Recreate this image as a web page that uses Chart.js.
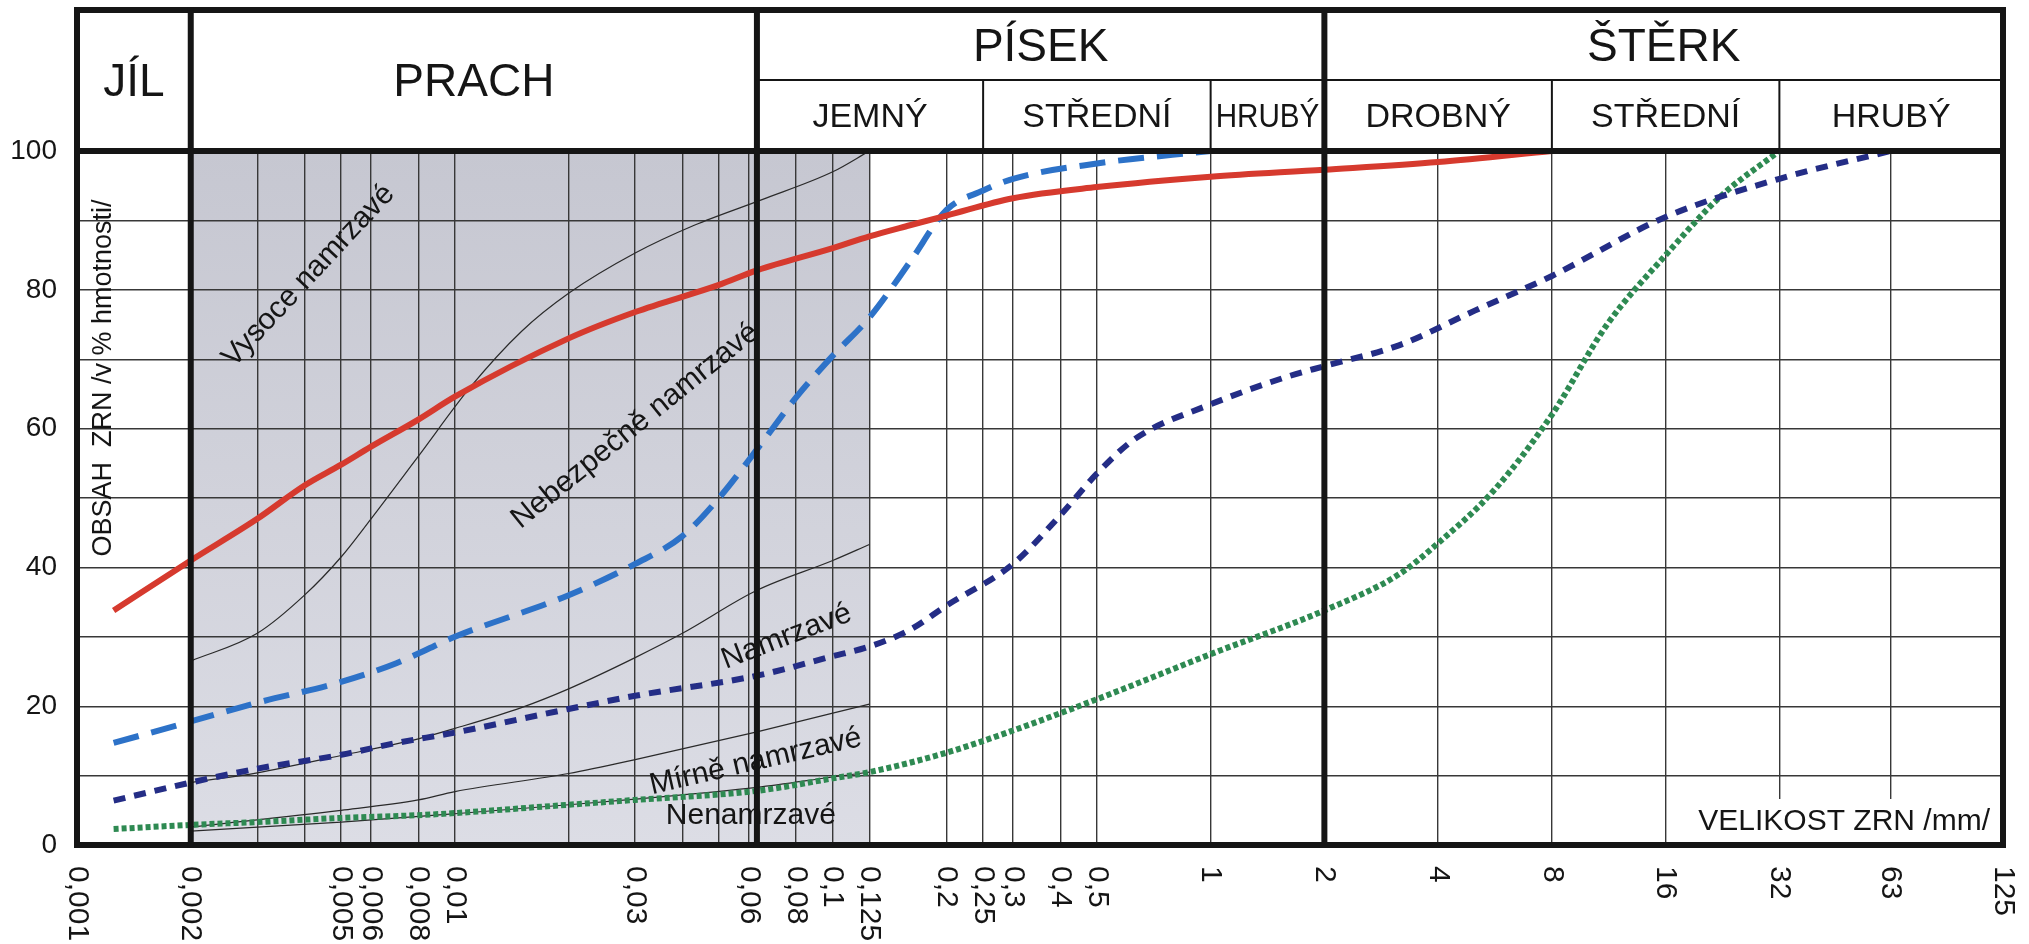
<!DOCTYPE html>
<html lang="cs">
<head>
<meta charset="utf-8">
<title>Čáry zrnitosti a namrzavost</title>
<script src="https://cdn.jsdelivr.net/npm/chart.js@4.4.1/dist/chart.umd.min.js"></script>
<style>
  html, body { margin: 0; padding: 0; background: #ffffff; }
  canvas { display: block; }
</style>
</head>
<body>
<canvas id="zrnitost" width="2029" height="944"></canvas>
<script>
// ---------------- DATA ----------------
// popisky osy x (velikost zrn v mm)
const osaHodnoty = [0.001, 0.002, 0.005, 0.006, 0.008, 0.01, 0.03, 0.06, 0.08, 0.1, 0.125, 0.2, 0.25, 0.3, 0.4, 0.5, 1, 2, 4, 8, 16, 32, 63, 125];
const osaPopisky = ['0,001', '0,002', '0,005', '0,006', '0,008', '0,01', '0,03', '0,06', '0,08', '0,1', '0,125', '0,2', '0,25', '0,3', '0,4', '0,5', '1', '2', '4', '8', '16', '32', '63', '125'];
// svislé čáry mřížky
const mrizkaX = [0.002, 0.003, 0.004, 0.005, 0.006, 0.008, 0.01, 0.02, 0.03, 0.04, 0.05, 0.06, 0.063, 0.08, 0.1, 0.125, 0.2, 0.25, 0.3, 0.4, 0.5, 1, 2, 4, 8, 16, 32, 63];

// frakce v záhlaví
const frakceNazvy = ['JÍL', 'PRACH', 'PÍSEK', 'ŠTĚRK'];
const frakceMeze = [0.001, 0.002, 0.063, 2, 125];
const podfrakceNazvy = ['JEMNÝ', 'STŘEDNÍ', 'HRUBÝ', 'DROBNÝ', 'STŘEDNÍ', 'HRUBÝ'];
const podfrakceMeze = [0.063, 0.25, 1, 2, 8, 32, 125];
const stinMeze = [0.002, 0.125];

// čáry zrnitosti (velikost zrn / obsah v %)
const cervenaD = [0.00125, 0.002, 0.003, 0.004, 0.005, 0.006, 0.008, 0.01, 0.02, 0.03, 0.05, 0.063, 0.1, 0.125, 0.16, 0.2, 0.3, 0.5, 1, 2, 4, 8];
const cervenaP = [33.8, 41, 47, 51.8, 54.8, 57.4, 61.3, 64.6, 73, 76.8, 80.7, 82.8, 86, 87.7, 89.3, 90.7, 93.2, 94.8, 96.3, 97.3, 98.4, 100];

const modraD = [0.00125, 0.002, 0.003, 0.005, 0.007, 0.01, 0.02, 0.03, 0.04, 0.05, 0.063, 0.08, 0.1, 0.125, 0.16, 0.2, 0.25, 0.3, 0.5, 1];
const modraP = [14.7, 17.8, 20.5, 23.5, 26.2, 30, 36, 40.5, 44.5, 50, 57, 64.5, 70.5, 76, 84, 91.5, 94.3, 96, 98.2, 100];

const tmavaD = [0.00125, 0.002, 0.003, 0.005, 0.007, 0.01, 0.02, 0.03, 0.063, 0.1, 0.125, 0.16, 0.2, 0.3, 0.4, 0.5, 0.63, 1, 1.6, 2, 3.15, 5, 8, 16, 32, 63];
const tmavaP = [6.4, 9, 11, 13, 14.7, 16.2, 19.6, 21.5, 24.4, 27.2, 28.6, 31, 34.5, 40.5, 47.5, 53.5, 58.5, 63.5, 67.5, 69, 72, 77, 82, 90.5, 96, 100];

const zelenaD = [0.00125, 0.002, 0.003, 0.005, 0.008, 0.01, 0.02, 0.03, 0.063, 0.1, 0.125, 0.2, 0.3, 0.5, 1, 2, 3.15, 4, 5.6, 8, 11.2, 16, 22.4, 32];
const zelenaP = [2.3, 2.9, 3.3, 3.9, 4.3, 4.6, 5.8, 6.5, 7.8, 9.6, 10.5, 13.3, 16.5, 21, 27.5, 33.8, 39, 43.5, 51, 62, 75, 85, 93.5, 100];

// hranice oblastí namrzavosti
const hranice1D = [0.002, 0.003, 0.004, 0.005, 0.006, 0.008, 0.011, 0.015, 0.02, 0.03, 0.043, 0.065, 0.1, 0.125];
const hranice1P = [26.5, 30.5, 36, 41.5, 47, 56, 66, 74, 79.5, 85.3, 89.3, 93, 97, 100];
const hranice2D = [0.002, 0.003, 0.005, 0.008, 0.01, 0.015, 0.02, 0.03, 0.04, 0.063, 0.1, 0.125];
const hranice2P = [9, 10.4, 12.9, 15.3, 16.8, 19.8, 22.5, 27, 30.5, 36.7, 41, 43.3];
const hranice3D = [0.002, 0.005, 0.008, 0.01, 0.02, 0.03, 0.063, 0.1, 0.125];
const hranice3P = [2.6, 5, 6.5, 7.7, 10.3, 12.3, 16.3, 19, 20.3];
const hranice4D = [0.002, 0.005, 0.01, 0.02, 0.03, 0.063, 0.1, 0.125];
const hranice4P = [2, 3.3, 4.5, 5.8, 6.6, 8.3, 9.8, 10.5];

// popisy oblastí
const oblastiText = ['Vysoce namrzavé', 'Nebezpečně namrzavé', 'Namrzavé', 'Mírně namrzavé', 'Nenamrzavé'];
const oblastiD = [0.0041, 0.030, 0.0755, 0.0625, 0.0607];
const oblastiP = [82, 60.4, 30, 12, 4.2];
const oblastiUhel = [-47, -39, -21, -13, 0];

const pismo = '"Liberation Sans", Arial, sans-serif';
const cerna = '#151515';

function body(d, p) {
    return d.map((x, i) => ({ x: x, y: p[i] }));
}

function cara(ctx, x1, y1, x2, y2, sirka) {
    ctx.lineWidth = sirka;
    ctx.beginPath();
    ctx.moveTo(x1, y1);
    ctx.lineTo(x2, y2);
    ctx.stroke();
}

// ---------------- RÁMEČEK, ZÁHLAVÍ, POPISY ----------------
const ramecek = {
    id: 'ramecek',
    beforeDraw(chart) {
        const { ctx, chartArea: a, scales: { x } } = chart;
        const x1 = x.getPixelForValue(stinMeze[0]);
        const x2 = x.getPixelForValue(stinMeze[1]);
        const g = ctx.createLinearGradient(0, a.top, 0, a.bottom);
        g.addColorStop(0, '#c6c7d1');
        g.addColorStop(1, '#dcdde5');
        ctx.save();
        ctx.fillStyle = g;
        ctx.fillRect(x1, a.top, x2 - x1, a.bottom - a.top);
        ctx.restore();
    },
    afterDatasetsDraw(chart) {
        const { ctx, chartArea: a, scales: { x, y } } = chart;
        ctx.save();
        ctx.fillStyle = cerna;
        ctx.textAlign = 'center';
        ctx.textBaseline = 'middle';
        ctx.font = '30px ' + pismo;

        // popisy oblastí namrzavosti
        oblastiText.forEach((t, i) => {
            ctx.save();
            ctx.translate(x.getPixelForValue(oblastiD[i]), y.getPixelForValue(oblastiP[i]));
            ctx.rotate(oblastiUhel[i] * Math.PI / 180);
            ctx.fillText(t, 0, 0);
            ctx.restore();
        });

        // název osy y
        ctx.save();
        ctx.font = '27px ' + pismo;
        ctx.translate(a.left + 27, y.getPixelForValue(67.3));
        ctx.rotate(-Math.PI / 2);
        ctx.fillText('OBSAH  ZRN /v % hmotnosti/', 0, 0);
        ctx.restore();

        // název osy x v bílém poli
        ctx.fillStyle = '#ffffff';
        ctx.fillRect(a.right - 313, a.bottom - 46, 310, 46);
        ctx.fillStyle = cerna;
        ctx.textAlign = 'right';
        ctx.textBaseline = 'alphabetic';
        ctx.fillText('VELIKOST ZRN /mm/', a.right - 13, a.bottom - 15);
        ctx.restore();
    },
    afterDraw(chart) {
        const { ctx, chartArea: a, scales: { x } } = chart;
        const horni = 10;
        const radek = 80;
        ctx.save();
        ctx.strokeStyle = cerna;
        ctx.lineCap = 'square';

        // silné čáry - rámeček a hranice frakcí
        cara(ctx, a.left, horni, a.right, horni, 6);
        cara(ctx, a.left, a.top, a.right, a.top, 6);
        cara(ctx, a.left, a.bottom, a.right, a.bottom, 6);
        frakceMeze.forEach(m => {
            const px = x.getPixelForValue(m);
            cara(ctx, px, horni, px, a.bottom, 6);
        });

        // tenké čáry podfrakcí
        ctx.lineCap = 'butt';
        const xPisek = x.getPixelForValue(podfrakceMeze[0]);
        cara(ctx, xPisek, radek, a.right, radek, 2);
        podfrakceMeze.slice(1, -1).forEach(m => {
            const px = x.getPixelForValue(m);
            cara(ctx, px, radek, px, a.top, 2);
        });

        // texty záhlaví
        ctx.fillStyle = cerna;
        ctx.textAlign = 'center';
        ctx.textBaseline = 'middle';
        ctx.font = '46px ' + pismo;
        frakceNazvy.forEach((n, i) => {
            const x1 = x.getPixelForValue(frakceMeze[i]);
            const x2 = x.getPixelForValue(frakceMeze[i + 1]);
            const yy = i < 2 ? (horni + a.top) / 2 + 3 : (horni + radek) / 2 + 3;
            ctx.fillText(n, (x1 + x2) / 2, yy, x2 - x1 - 12);
        });
        ctx.font = '34px ' + pismo;
        podfrakceNazvy.forEach((n, i) => {
            const x1 = x.getPixelForValue(podfrakceMeze[i]);
            const x2 = x.getPixelForValue(podfrakceMeze[i + 1]);
            ctx.fillText(n, (x1 + x2) / 2, (radek + a.top) / 2 + 2, x2 - x1 - 10);
        });

        // popisky osy x, otočené
        ctx.font = '30px ' + pismo;
        ctx.textAlign = 'left';
        osaHodnoty.forEach((v, i) => {
            ctx.save();
            ctx.translate(x.getPixelForValue(v), a.bottom + 21);
            ctx.rotate(Math.PI / 2);
            ctx.fillText(osaPopisky[i], 0, 0);
            ctx.restore();
        });
        ctx.restore();
    }
};

// ---------------- GRAF ----------------
const tenka = { borderColor: '#2a2a2a', borderWidth: 1.2 };

new Chart(document.getElementById('zrnitost'), {
    type: 'line',
    data: {
        datasets: [
            { label: 'červená', data: body(cervenaD, cervenaP), borderColor: '#d63a2e', borderWidth: 6 },
            { label: 'modrá', data: body(modraD, modraP), borderColor: '#2d72c8', borderWidth: 6, borderDash: [26, 13] },
            { label: 'tmavě modrá', data: body(tmavaD, tmavaP), borderColor: '#242d86', borderWidth: 6, borderDash: [12, 9] },
            { label: 'zelená', data: body(zelenaD, zelenaP), borderColor: '#2e8a52', borderWidth: 6, borderDash: [5, 3] },
            Object.assign({ label: 'hranice 1', data: body(hranice1D, hranice1P) }, tenka),
            Object.assign({ label: 'hranice 2', data: body(hranice2D, hranice2P) }, tenka),
            Object.assign({ label: 'hranice 3', data: body(hranice3D, hranice3P) }, tenka),
            Object.assign({ label: 'hranice 4', data: body(hranice4D, hranice4P) }, tenka)
        ]
    },
    options: {
        responsive: false,
        animation: false,
        devicePixelRatio: 1,
        layout: { padding: { top: 151, right: 26, left: 0, bottom: 0 } },
        elements: {
            point: { radius: 0 },
            line: { cubicInterpolationMode: 'monotone', fill: false }
        },
        plugins: { legend: { display: false }, tooltip: { enabled: false } },
        scales: {
            x: {
                type: 'logarithmic',
                min: 0.001,
                max: 125,
                afterBuildTicks: s => { s.ticks = mrizkaX.map(v => ({ value: v })); },
                afterFit: s => { s.height = 99; },
                ticks: { display: false },
                grid: { color: '#383838', lineWidth: 1.4, drawTicks: false },
                border: { display: false }
            },
            y: {
                min: 0,
                max: 100,
                afterFit: s => { s.width = 77; },
                ticks: {
                    stepSize: 10,
                    padding: 20,
                    color: cerna,
                    font: { family: pismo, size: 28 },
                    callback: v => (v % 20 === 0 ? v : '')
                },
                grid: { color: '#383838', lineWidth: 1.4, drawTicks: false },
                border: { display: false }
            }
        }
    },
    plugins: [ramecek]
});
</script>
</body>
</html>
